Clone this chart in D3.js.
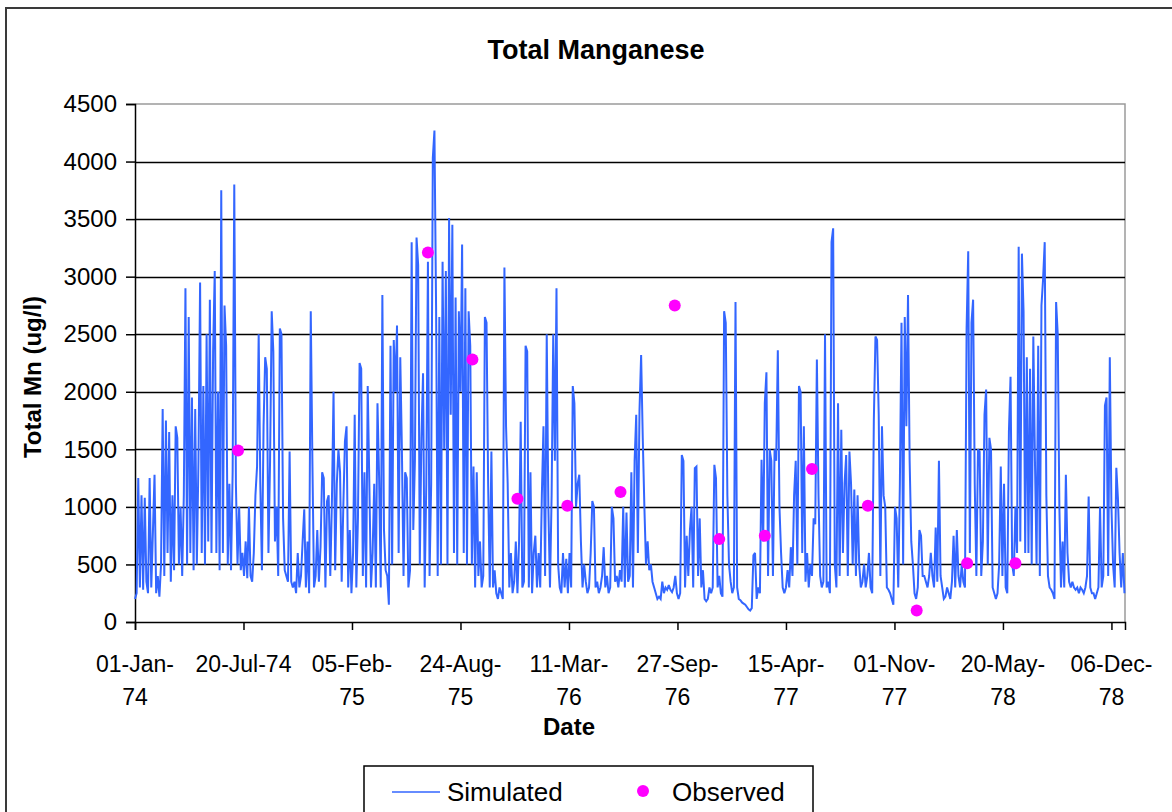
<!DOCTYPE html>
<html>
<head>
<meta charset="utf-8">
<script src="https://cdn.jsdelivr.net/npm/d3@7"></script>
<style>
  body { margin: 0; background: #fff; }
  svg { display: block; }
  text { font-family: "Liberation Sans", Arial, Helvetica, sans-serif; fill: #000; }
</style>
</head>
<body>
<svg id="chart" width="1172" height="812"></svg>
<script>
// ---- labels ----
const chartTitle = "Total Manganese";
const yTitle = "Total Mn (ug/l)";
const xTitle = "Date";
const seriesNames = ["Simulated", "Observed"];

// ---- simulated daily series, one value every simStepDays days from simStart (ug/l) ----
const simStart = "1974-01-01";
const simStepDays = 3;
const simulated = [
  // Jan - Apr 1974
  200,250,1250,300,1100,280,1080,350,250,1250,300,780,1280,250,400,220,500,1850,400,1750,600,1650,350,1100,450,1700,1600,500,1000,400,1100,
  // Apr - Aug 1974
  2900,500,2650,600,1950,450,1850,500,1400,2950,600,2050,500,2500,700,2800,600,2350,3050,600,2000,450,3750,600,2750,2400,500,1200,450,1300,3800,
  // Aug - Nov 1974
  1200,500,1000,450,600,400,700,380,1000,400,350,600,1100,1350,2500,1200,450,1700,2300,2200,600,1400,2700,2350,700,1000,400,2550,2500,900,450,
  // Nov 1974 - Jan 1975
  400,350,1480,350,300,350,250,600,300,400,700,980,300,700,250,2700,1400,300,400,800,350,650,1300,1250,300,1050,1100,400,1050,2000,
  // Jan - Apr 1975
  450,1200,1500,1300,350,1000,1570,1700,300,800,250,600,1800,300,900,2250,2200,400,1300,300,2050,1200,300,600,1200,300,1900,1250,300,2840,800,
  // May - Jul 1975
  450,400,150,2400,500,2450,2000,2575,600,2300,1500,400,1300,1250,300,450,3300,800,1400,3340,3100,500,1600,2160,300,1200,3130,400,1200,4030,4270,
  // Jul - Oct 1975
  2750,400,2650,500,3130,1500,3050,500,3510,1800,3450,600,2820,500,2700,2000,3280,600,2900,500,2700,2400,500,1350,300,1300,400,700,300,400,
  // Oct 1975 - Jan 1976
  2650,2600,1200,300,1480,300,450,250,200,300,250,200,3080,1700,1200,300,600,250,350,700,250,700,1740,300,350,2400,2350,300,1300,250,600,
  // Jan - Apr 1976
  750,300,600,300,1100,1700,400,2500,1000,300,1100,2500,1400,2900,500,300,250,600,300,550,250,600,300,2050,1900,1000,1200,1280,700,300,500,
  // Apr - Jul 1976
  350,250,300,600,1050,1000,300,350,250,300,400,650,300,400,250,300,1000,900,350,400,300,450,350,1000,300,950,350,400,1300,300,
  // Jul - Oct 1976
  1400,1800,600,1835,2320,1600,1000,500,700,450,500,350,300,250,200,220,200,350,250,300,280,320,280,260,300,400,250,200,250,1450,1400,
  // Oct 1976 - Jan 1977
  300,750,400,800,1000,300,1336,1350,400,900,300,450,200,180,200,300,250,300,1365,1250,300,400,250,220,2700,2600,1100,500,350,250,300,
  // Jan - Apr 1977
  2780,300,200,190,170,160,150,130,110,100,120,580,600,200,300,250,1410,700,1900,2170,400,1500,1400,400,1500,1400,2360,1000,600,300,
  // Apr - Jul 1977
  250,300,450,300,650,400,1100,1400,500,2050,2000,600,1700,350,600,300,500,400,900,850,2280,1100,400,300,350,2500,300,350,250,3300,3420,
  // Jul - Oct 1977
  500,300,1900,400,1670,600,1200,1450,400,1480,1200,500,1150,400,1100,500,300,350,500,300,400,600,300,250,1750,2480,2450,1800,400,1700,1100,
  // Oct 1977 - Jan 1978
  1000,300,280,250,200,150,1000,900,300,1200,2600,500,2650,1700,2840,1400,700,500,250,200,300,800,750,400,400,350,300,400,600,400,
  // Jan - Apr 1978
  300,820,350,1400,400,300,200,220,300,250,200,350,750,300,800,400,300,500,350,300,2550,3220,600,2600,2800,1200,400,1500,1480,400,700,
  // Apr - Jul 1978
  1800,2020,500,1600,1500,300,250,200,250,500,1350,400,1200,300,250,1650,2130,500,400,1000,600,3260,700,3200,2700,600,2300,600,2200,500,2480,
  // Jul - Oct 1978
  1400,500,2400,400,2750,2980,3300,1100,400,300,280,250,200,2780,2500,1000,300,700,300,1280,600,350,300,350,300,280,300,250,300,280,
  // Oct - Dec 1978
  250,300,400,1090,300,250,250,200,250,300,1000,300,400,1880,1950,400,2300,1000,500,300,1340,1070,600,300,600,250
];

// ---- observed samples ----
const observedDates = ["1974-07-10","1975-06-25","1975-09-15","1975-12-07","1976-03-08","1976-06-14","1976-09-22",
                       "1976-12-13","1977-03-07","1977-06-02","1977-09-13","1977-12-12","1978-03-15","1978-06-12"];
const observedValues = [1490, 3210, 2280, 1070, 1010, 1130, 2750, 720, 750, 1330, 1010, 100, 510, 510];

// ---- axes ----
const yTicks = [0, 500, 1000, 1500, 2000, 2500, 3000, 3500, 4000, 4500];
const xTickDates = ["1974-01-01","1974-07-20","1975-02-05","1975-08-24","1976-03-11",
                    "1976-09-27","1977-04-15","1977-11-01","1978-05-20","1978-12-06"];
const xDomain = ["1974-01-01", "1978-12-31"];

const parse = d3.utcParse("%Y-%m-%d");
const fmt = d3.utcFormat("%d-%b-%y");

const svg = d3.select("#chart");
const plot = { left: 135, right: 1125, top: 104, bottom: 622 };

const x = d3.scaleUtc().domain(xDomain.map(parse)).range([plot.left, plot.right]);
const y = d3.scaleLinear().domain([0, 4500]).range([plot.bottom, plot.top]);

// chart frame
svg.append("rect")
  .attr("x", 6).attr("y", 8).attr("width", 1200).attr("height", 840)
  .attr("fill", "#fff").attr("stroke", "#3a3a3a").attr("stroke-width", 2);

// plot area frame (top / right)
svg.append("path")
  .attr("d", `M${plot.left},${plot.top}H${plot.right}V${plot.bottom}`)
  .attr("fill", "none").attr("stroke", "#9a9a9a").attr("stroke-width", 1.5);

// horizontal gridlines
svg.append("g").selectAll("line")
  .data(yTicks.filter(v => v > 0 && v < 4500))
  .join("line")
  .attr("x1", plot.left).attr("x2", plot.right)
  .attr("y1", d => Math.round(y(d)) + 0.5).attr("y2", d => Math.round(y(d)) + 0.5)
  .attr("stroke", "#000").attr("stroke-width", 1.4);

// y axis
const yAxis = d3.axisLeft(y).tickValues(yTicks).tickSize(9).tickPadding(9).tickFormat(d3.format("d"));
const gy = svg.append("g").attr("transform", `translate(${plot.left},0)`).call(yAxis);
gy.select(".domain").attr("stroke", "#000").attr("stroke-width", 1.5);
gy.selectAll(".tick line").attr("stroke", "#000").attr("stroke-width", 1.5);
gy.selectAll(".tick text").attr("font-size", 24).attr("font-family", null).attr("fill", "#000");

// x axis
const xAxis = d3.axisBottom(x).tickValues(xTickDates.map(parse)).tickSize(8).tickFormat("");
const gx = svg.append("g").attr("transform", `translate(0,${plot.bottom})`).call(xAxis);
gx.select(".domain").attr("stroke", "#000").attr("stroke-width", 1.5);
gx.selectAll(".tick line").attr("stroke", "#000").attr("stroke-width", 1.5);

// x tick labels, wrapped after the month when too wide for the tick spacing
const xl = svg.append("g").attr("font-size", 23);
xTickDates.forEach(ds => {
  const d = parse(ds);
  const label = fmt(d);
  const t = xl.append("text").attr("x", x(d)).attr("y", 672).attr("text-anchor", "middle").text(label);
  if (t.node().getComputedTextLength() > 100) {
    const cut = label.lastIndexOf("-") + 1;
    t.text(null);
    t.append("tspan").attr("x", x(d)).attr("y", 672).text(label.slice(0, cut));
    t.append("tspan").attr("x", x(d)).attr("y", 705).text(label.slice(cut));
  }
});

// simulated line
const simData = simulated.map((v, i) => ({ date: d3.utcDay.offset(parse(simStart), i * simStepDays), value: v }));
const line = d3.line().x(d => x(d.date)).y(d => y(d.value));
svg.append("path")
  .datum(simData)
  .attr("d", line)
  .attr("fill", "none")
  .attr("stroke", "#3366ff")
  .attr("stroke-width", 2)
  .attr("stroke-linejoin", "miter")
  .attr("stroke-miterlimit", 3);

// observed points
const obsData = observedDates.map((ds, i) => ({ date: parse(ds), value: observedValues[i] }));
svg.append("g").selectAll("circle")
  .data(obsData)
  .join("circle")
  .attr("cx", d => x(d.date))
  .attr("cy", d => y(d.value))
  .attr("r", 6)
  .attr("fill", "#ff00ff");

// titles
svg.append("text").attr("x", 596).attr("y", 59).attr("text-anchor", "middle")
  .attr("font-size", 27).attr("font-weight", "bold").text(chartTitle);
svg.append("text").attr("x", 569).attr("y", 735).attr("text-anchor", "middle")
  .attr("font-size", 24).attr("font-weight", "bold").text(xTitle);
svg.append("text").attr("transform", "translate(41,377) rotate(-90)").attr("text-anchor", "middle")
  .attr("font-size", 24).attr("font-weight", "bold").text(yTitle);

// legend
const lg = svg.append("g");
lg.append("rect").attr("x", 364).attr("y", 766).attr("width", 449).attr("height", 70)
  .attr("fill", "#fff").attr("stroke", "#000").attr("stroke-width", 1.5);
lg.append("line").attr("x1", 392).attr("x2", 440).attr("y1", 792).attr("y2", 792)
  .attr("stroke", "#3366ff").attr("stroke-width", 1.5);
lg.append("text").attr("x", 447).attr("y", 801).attr("font-size", 26).text(seriesNames[0]);
lg.append("circle").attr("cx", 643).attr("cy", 791).attr("r", 6).attr("fill", "#ff00ff");
lg.append("text").attr("x", 672).attr("y", 801).attr("font-size", 26).text(seriesNames[1]);
</script>
</body>
</html>
